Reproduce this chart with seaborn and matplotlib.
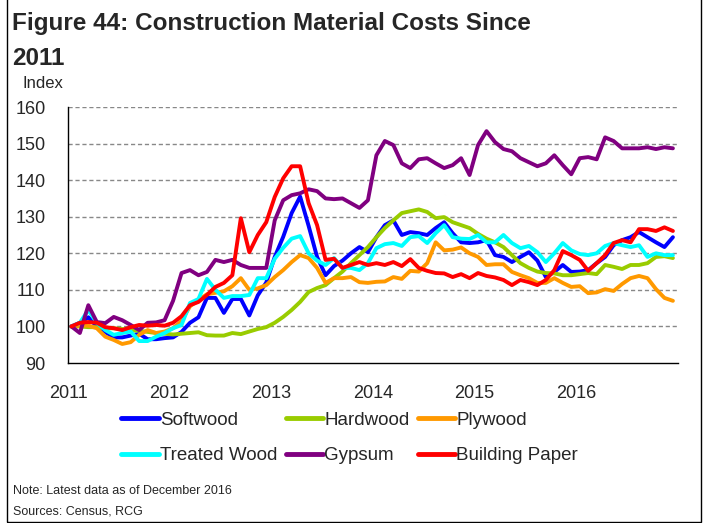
import numpy as np
import pandas as pd
import matplotlib
matplotlib.use("Agg")
import matplotlib.pyplot as plt
import seaborn as sns
from matplotlib.patches import Rectangle

# DATOS MENSUALES ENE 2011 - DIC 2016 (indice, ene 2011 = 100)
series = ["Softwood", "Hardwood", "Plywood", "Treated Wood", "Gypsum", "Building Paper"]
colores = ["#0000FF", "#99CC00", "#FF9900", "#00FFFF", "#800080", "#FF0000"]
anios = [2011, 2012, 2013, 2014, 2015, 2016]

softwood = [100, 101, 102.5, 100, 98.5, 97, 97, 97.5, 98, 96.5, 96.5, 96.8,
            97, 98.5, 101, 102.5, 107.8, 107.8, 103.7, 107.5, 107.5, 103, 108.5, 112,
            119, 124.5, 131, 135.5, 127.5, 119, 114, 116.5, 118, 120, 121.7, 120.3,
            124.4, 127.7, 129, 125, 125.8, 125.5, 125, 126.9, 128.5, 125.5, 123, 122.8,
            123, 123.6, 119.5, 119, 117.6, 119, 120.3, 118, 113.5, 114.9, 116.8, 114.9,
            115, 115.4, 117.3, 119, 122.2, 123.6, 124.4, 125.8, 124.4, 123, 121.7, 124.4]
hardwood = [100, 100, 99.8, 99.8, 99.5, 99.5, 99.3, 99, 98.8, 98.5, 98.2, 98,
            97.8, 98, 98.2, 98.4, 97.6, 97.5, 97.5, 98.2, 97.9, 98.6, 99.3, 99.8,
            101, 102.6, 104.5, 106.7, 109.4, 110.5, 111.3, 113.2, 115, 117.3, 119.5, 121.7,
            124.4, 126.9, 129, 131, 131.5, 132, 131.3, 129.6, 129.9, 128.5, 127.7, 126.9,
            125.3, 124, 123, 121.7, 119.5, 117.3, 116, 115, 114.6, 114.5, 114, 114,
            114.3, 114.6, 114.3, 116.8, 116.3, 115.7, 116.8, 116.8, 117.3, 119, 119.2, 118.7]
plywood = [100, 100.2, 100.2, 99.5, 97.2, 96.3, 95.2, 95.7, 97.7, 99, 98.2, 98.6,
           99.5, 101.5, 105.5, 107.2, 108.8, 109.2, 109.6, 111, 113.2, 110, 110.4, 111.3,
           113.5, 115.4, 117.6, 119.5, 118.7, 116, 111.9, 113.2, 113.2, 113.5, 112.1, 111.9,
           112.2, 112.3, 113.5, 113, 115.2, 115, 117.3, 123, 120.8, 121, 121.6, 120,
           119, 116.8, 117, 117, 114.9, 114, 113.2, 111.9, 111.9, 113.2, 111.9, 110.8,
           111, 109.1, 109.3, 110.2, 109.7, 111.6, 113.2, 113.8, 113.2, 110.2, 107.8, 107]
treated = [100, 101, 104.5, 101, 99, 97.7, 98.2, 98.6, 96, 96, 97.2, 98.2,
           99.5, 100.4, 106.4, 107.5, 113, 110, 107.8, 108.3, 108.3, 108.6, 113.2, 113.2,
           118.5, 121.5, 124, 124.7, 120, 118, 116.8, 118.7, 116, 116, 115.4, 117.3,
           121.4, 122.5, 122.8, 122, 124.4, 124.7, 122.8, 125.5, 127.7, 124.4, 124, 123.9,
           125, 123, 123, 125, 122.8, 121.4, 122, 120.3, 117.6, 120, 122.8, 120.8,
           119.8, 119.5, 120, 122, 122.8, 122.2, 121.7, 122.2, 119, 120, 119.5, 119.5]
gypsum = [100, 98.2, 105.8, 101.2, 100.9, 102.6, 101.7, 100.4, 99, 101, 101.1, 101.7,
          107, 114.6, 115.4, 114, 114.9, 118.2, 117.6, 118.2, 116.8, 116, 116, 116,
          129, 134.5, 135.9, 136.4, 137.5, 137, 135, 134.8, 135, 133.7, 132.4, 134.5,
          146.8, 150.7, 149.6, 144.6, 143.3, 145.7, 146, 144.6, 143.3, 144.1, 146, 141.4,
          149.6, 153.4, 150.4, 148.5, 147.9, 146, 144.9, 143.8, 144.6, 146.8, 144.1, 141.6,
          146, 146.3, 145.7, 151.7, 150.7, 148.7, 148.7, 148.7, 149, 148.5, 149, 148.7]
paper = [100, 101, 101.2, 101, 99.8, 99.5, 99, 99.8, 100.4, 100.2, 100.4, 100.2,
         101, 102.8, 105.8, 106.7, 108.6, 110.8, 111.9, 114, 129.6, 120.3, 125, 128.5,
         135.4, 140.5, 143.8, 143.8, 133.7, 127.7, 118.2, 118.5, 116, 116.8, 117.6, 116.8,
         117.3, 116.8, 117.6, 116.5, 118.4, 116, 115.2, 114.6, 114.5, 113.5, 114.3, 113.2,
         114.6, 113.8, 113.4, 112.7, 111.3, 112.7, 112.1, 111.3, 112.7, 115.4, 120.6, 119.5,
         118.2, 115.2, 117.3, 119.5, 122.8, 123.6, 123, 126.6, 126.6, 126.1, 127.1, 126.1]

valores = [softwood, hardwood, plywood, treated, gypsum, paper]
meses = np.arange(72)
fecha = 2011 + (meses + 0.4) / 12

datos = pd.concat(
    [pd.DataFrame({"fecha": fecha, "indice": v, "serie": s}) for s, v in zip(series, valores)],
    ignore_index=True,
)

# ESTILO
sns.set_style("white")
plt.rcParams["font.family"] = ["Liberation Sans", "DejaVu Sans"]

fig = plt.figure(figsize=(7.07, 5.23), dpi=100)
ax = fig.add_axes([68 / 707, 1 - 363 / 523, 610 / 707, 256 / 523])

sns.lineplot(
    data=datos, x="fecha", y="indice", hue="serie",
    hue_order=series, palette=colores, linewidth=2.8, ax=ax, legend=True,
)

ax.set_xlim(2011, 2017)
ax.set_ylim(90, 160)
ax.set_xticks(range(2011, 2018))
ax.set_xticklabels([str(a) for a in anios] + [""])
ax.set_yticks(range(90, 161, 10))
ax.set_xlabel("")
ax.set_ylabel("")
ax.tick_params(axis="x", direction="out", length=6, width=1, color="black",
               labelsize=13, pad=10)
ax.tick_params(axis="y", direction="out", length=5, width=1, color="black",
               labelsize=13, pad=11)
for s in ["top", "right"]:
    ax.spines[s].set_visible(False)
for s in ["left", "bottom"]:
    ax.spines[s].set_color("black")
    ax.spines[s].set_linewidth(1)

for y in range(100, 161, 10):
    ax.axhline(y, color="#888888", linestyle=(0, (3, 2)), linewidth=1, zorder=0)

# LEYENDA (orden por filas)
handles, labels = ax.get_legend_handles_labels()
orden = [0, 3, 1, 4, 2, 5]
ax.legend(
    [handles[i] for i in orden], [labels[i] for i in orden],
    ncol=3, frameon=False, fontsize=13.5, handlelength=2.0, handletextpad=0.05,
    columnspacing=0.45, labelspacing=1.0, borderaxespad=0,
    loc="upper left", bbox_to_anchor=(114 / 707, 1 - 404 / 523),
    bbox_transform=fig.transFigure,
)
for linea in ax.get_legend().get_lines():
    linea.set_linewidth(3.5)

# TEXTOS
fig.text(12 / 707, 1 - 30 / 523, "Figure 44: Construction Material Costs Since",
         fontsize=17.5, fontweight="bold", va="baseline")
fig.text(12 / 707, 1 - 65 / 523, "2011", fontsize=17.5, fontweight="bold", va="baseline")
fig.text(23 / 707, 1 - 88 / 523, "Index", fontsize=12, va="baseline")
fig.text(13 / 707, 1 - 494 / 523, "Note: Latest data as of December 2016", fontsize=9, va="baseline")
fig.text(13 / 707, 1 - 514 / 523, "Sources: Census, RCG", fontsize=9, va="baseline")

# MARCO
fig.add_artist(Rectangle((7 / 707, 1 / 523), 694 / 707, 1.2, transform=fig.transFigure,
                         fill=False, edgecolor="black", linewidth=1))

plt.savefig("out.png", dpi=100)
plt.close()
